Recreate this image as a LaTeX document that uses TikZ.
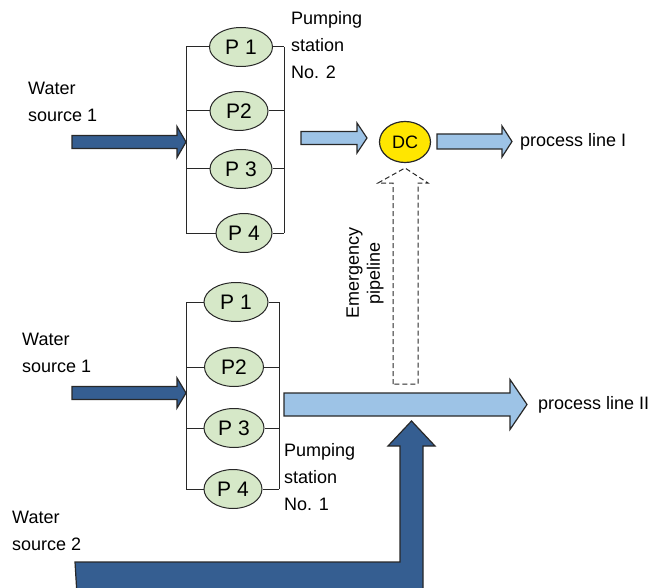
\documentclass[tikz,border=0pt]{standalone}
\usepackage{fontspec}
\setmainfont{Liberation Sans}
\usetikzlibrary{shapes.geometric}
\definecolor{darkpipe}{RGB}{53,94,145}
\definecolor{lightpipe}{RGB}{157,195,230}
\definecolor{pumpgreen}{RGB}{214,232,200}
\definecolor{dcyellow}{RGB}{255,230,0}
\definecolor{linegray}{RGB}{40,40,40}
% block arrow: style, x start, x head, x tip, y, half shaft, half head
\newcommand{\hpipe}[7]{%
  \filldraw[#1] (#2,#5-#6) -- (#3,#5-#6) -- (#3,#5-#7) -- (#4,#5)
    -- (#3,#5+#7) -- (#3,#5+#6) -- (#2,#5+#6) -- cycle;}
\begin{document}
\begin{tikzpicture}[x=1pt,y=-1pt,font=\fontsize{18}{27}\selectfont,
  pump/.style={ellipse,draw=linegray,fill=pumpgreen,line width=1pt,minimum height=39,inner sep=0pt,
    font=\fontsize{21}{25}\selectfont},
  wire/.style={draw=linegray,line width=1pt},
  pipe/.style={draw=linegray,line width=1.2pt,line join=miter},
  lbl/.style={align=left,inner sep=0pt,anchor=west}]
\useasboundingbox (0,0) rectangle (655,588);

% pumping station No. 2
\coordinate (inA) at (186,142);
\coordinate (outA) at (284,142);
\foreach \n/\x/\y/\w/\t in {1/241/47/63/P 1, 2/239/111/58/P2, 3/241/169/62/P 3, 4/244/233/56/P 4} {
  \node[pump,minimum width=\w] (a\n) at (\x,\y) {\t};
  \draw[wire] (a\n.west) -- (a\n.west -| inA);
  \draw[wire] (a\n.east) -- (a\n.east -| outA);}
\draw[wire] (a1.west -| inA) -- (a4.west -| inA);
\draw[wire] (a1.east -| outA) -- (a4.east -| outA);
\node[lbl] (stA) at (291,45) {Pumping\\station\\No. 2};
\node[lbl] (srcA) at (28,102) {Water\\source 1};
\hpipe{pipe,fill=darkpipe}{72}{177}{186}{142}{6.5}{15.5}

% distribution chamber
\node[ellipse,draw=linegray,fill=dcyellow,line width=1.2pt,minimum width=51,minimum height=41,inner sep=0pt] (dc) at (405,142) {DC};
\hpipe{pipe,fill=lightpipe}{301}{357}{367}{138}{6.5}{15}
\hpipe{pipe,fill=lightpipe}{437}{502}{512}{141.5}{7.5}{15.5}
\node[lbl] (lineI) at (520,142) {process line I};

% emergency pipeline
\filldraw[draw=linegray,fill=white,dash pattern=on 5pt off 3pt,line width=1pt] (393,384) -- (393,183) -- (378,183)
  -- (405,168) -- (428,183) -- (418,183) -- (418,384) -- cycle;
\node[rotate=90,align=center,inner sep=0pt,font=\fontsize{18}{21}\selectfont] (emlbl) at (365,273) {Emergency\\pipeline};

% pumping station No. 1
\coordinate (inB) at (186,393);
\coordinate (outB) at (279,404);
\foreach \n/\x/\y/\w/\t in {1/236/302/64/P 1, 2/234/367/59/P2, 3/234/428/60/P 3, 4/233/489/58/P 4} {
  \node[pump,minimum width=\w] (b\n) at (\x,\y) {\t};
  \draw[wire] (b\n.west) -- (b\n.west -| inB);
  \draw[wire] (b\n.east) -- (b\n.east -| outB);}
\draw[wire] (b1.west -| inB) -- (b4.west -| inB);
\draw[wire] (b1.east -| outB) -- (b4.east -| outB);
\node[lbl] (stB) at (284,477) {Pumping\\station\\No. 1};
\node[lbl] (srcB) at (22,353) {Water\\source 1};
\hpipe{pipe,fill=darkpipe}{72}{177}{186}{393}{6.5}{15}
\hpipe{pipe,fill=lightpipe}{284}{510}{527}{404.5}{11.5}{25}
\node[lbl] (lineII) at (538,405) {process line II};

% water source 2
\node[lbl] (srcC) at (12,531) {Water\\source 2};
\filldraw[pipe,fill=darkpipe] (75,562) -- (400,562) -- (400,446) -- (388,446) -- (411.5,421)
  -- (435,446) -- (423,446) -- (423,595) -- (77,595) -- cycle;
\end{tikzpicture}
\end{document}
